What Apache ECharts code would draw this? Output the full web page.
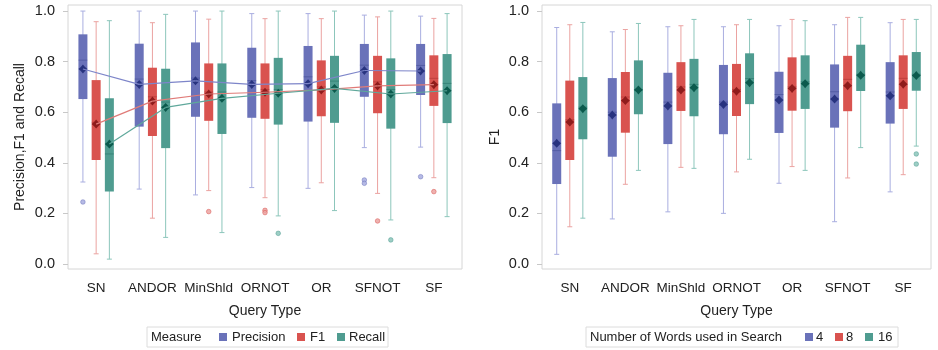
<!DOCTYPE html>
<html>
<head>
<meta charset="utf-8">
<script src="https://cdn.jsdelivr.net/npm/echarts@6/dist/echarts.min.js"></script>
<style>
html,body{margin:0;padding:0;background:#fff}
#chart{width:938px;height:350px}
</style>
</head>
<body>
<div id="chart"></div>
<script>
var categories = ['SN', 'ANDOR', 'MinShld', 'ORNOT', 'OR', 'SFNOT', 'SF'];
var yTicks = [0, 0.2, 0.4, 0.6, 0.8, 1.0];

// left panel - each row: lower whisker, q1, median, q3, upper whisker
var precisionBox = [[0.324,0.652,0.806,0.908,1.0],[0.296,0.543,0.731,0.871,1.0],[0.273,0.582,0.735,0.876,1.0],[0.302,0.578,0.725,0.855,0.99],[0.299,0.563,0.74,0.862,0.99],[0.46,0.661,0.786,0.87,0.984],[0.462,0.668,0.785,0.87,0.98]];
var precisionMean = [0.771,0.710,0.724,0.710,0.713,0.765,0.763];
var precisionOut = [[0,0.245],[5,0.332],[5,0.319],[6,0.345]];

var f1Box = [[0.04,0.411,0.56,0.727,0.958],[0.181,0.506,0.661,0.776,0.954],[0.29,0.566,0.68,0.793,0.968],[0.262,0.574,0.69,0.793,0.97],[0.321,0.584,0.70,0.805,0.97],[0.279,0.596,0.72,0.823,0.977],[0.341,0.625,0.734,0.825,0.971]];
var f1Mean = [0.553,0.644,0.672,0.679,0.688,0.704,0.709];
var f1Out = [[2,0.207],[3,0.212],[3,0.203],[5,0.17],[6,0.286]];

var recallBox = [[0.019,0.286,0.435,0.655,0.962],[0.105,0.458,0.64,0.772,0.987],[0.124,0.514,0.68,0.793,1.0],[0.19,0.551,0.69,0.815,1.0],[0.211,0.558,0.723,0.823,1.0],[0.174,0.535,0.69,0.813,1.0],[0.187,0.557,0.714,0.83,0.99]];
var recallMean = [0.474,0.619,0.655,0.675,0.694,0.672,0.685];
var recallOut = [[3,0.121],[5,0.095]];

// right panel - F1 by number of words
var w4Box = [[0.038,0.316,0.448,0.635,0.935],[0.178,0.424,0.60,0.735,0.918],[0.206,0.474,0.64,0.756,0.938],[0.2,0.513,0.64,0.787,0.938],[0.319,0.518,0.67,0.76,0.942],[0.167,0.539,0.681,0.789,0.946],[0.285,0.555,0.68,0.798,0.954]];
var w4Mean = [0.477,0.589,0.625,0.631,0.648,0.652,0.665];
var w8Box = [[0.147,0.411,0.57,0.725,0.946],[0.315,0.519,0.66,0.759,0.927],[0.382,0.605,0.70,0.798,0.942],[0.364,0.585,0.69,0.791,0.946],[0.385,0.606,0.70,0.817,0.967],[0.34,0.604,0.73,0.823,0.975],[0.353,0.613,0.734,0.825,0.967]];
var w8Mean = [0.561,0.646,0.688,0.683,0.694,0.705,0.711];
var w16Box = [[0.181,0.493,0.62,0.739,0.955],[0.37,0.592,0.69,0.805,0.951],[0.378,0.584,0.71,0.811,0.967],[0.414,0.632,0.733,0.833,0.967],[0.37,0.613,0.72,0.825,0.962],[0.46,0.684,0.75,0.867,0.975],[0.466,0.685,0.75,0.838,0.967]];
var w16Mean = [0.614,0.688,0.697,0.717,0.713,0.746,0.745];
var w16Out = [[6,0.435],[6,0.395]];

var FONT = '"Liberation Sans", Arial, sans-serif';
var BLUE = {fill: '#6a72b9', light: '#a9aee0', dark: '#28337f', line: '#7d85c9'};
var RED = {fill: '#d9534f', light: '#eba3a1', dark: '#8f1c1c', line: '#e07b78'};
var TEAL = {fill: '#4f9c90', light: '#8cc6bb', dark: '#0b5a4d', line: '#5fa89b'};
var OFF = 0.235;

// mean marker: small four-pointed star / diamond
function star(x, y) {
  var r = 4.5, s = 2.1;
  return [[x, y - r], [x + s, y - s], [x + r, y], [x + s, y + s], [x, y + r], [x - s, y + s], [x - r, y], [x - s, y - s]];
}

function boxSeries(grid, name, boxes, means, off, col) {
  var data = boxes.map(function (b, i) { return [i].concat(b).concat([means[i]]); });
  return {
    type: 'custom', name: name, xAxisIndex: grid, yAxisIndex: grid, z: 2,
    itemStyle: {color: col.fill},
    encode: {x: 0, y: 1},
    data: data,
    renderItem: function (params, api) {
      var c = api.value(0);
      var bw = api.size([1, 0])[0];
      var x = api.coord([c, 0])[0] + off * bw;
      var y = function (v) { return api.coord([c, v])[1]; };
      var lo = y(api.value(1)), q1 = y(api.value(2)), md = y(api.value(3));
      var q3 = y(api.value(4)), hi = y(api.value(5)), mn = y(api.value(6));
      var h = 4.5;
      return {type: 'group', children: [
        {type: 'line', shape: {x1: x, y1: hi, x2: x, y2: lo}, style: {stroke: col.light, lineWidth: 1}},
        {type: 'line', shape: {x1: x - 2.5, y1: hi, x2: x + 2.5, y2: hi}, style: {stroke: col.light, lineWidth: 1}},
        {type: 'line', shape: {x1: x - 2.5, y1: lo, x2: x + 2.5, y2: lo}, style: {stroke: col.light, lineWidth: 1}},
        {type: 'rect', shape: {x: x - h, y: q3, width: 2 * h, height: q1 - q3}, style: {fill: col.fill}},
        {type: 'line', shape: {x1: x - h, y1: md, x2: x + h, y2: md}, style: {stroke: col.dark, lineWidth: 1, opacity: 0.35}},
        {type: 'polygon', shape: {points: star(x, mn)}, style: {fill: col.dark}}
      ]};
    }
  };
}

function meanLine(grid, means, off, col) {
  return {
    type: 'custom', xAxisIndex: grid, yAxisIndex: grid, z: 3, silent: true,
    encode: {x: 0, y: 1},
    data: means.map(function (m, i) { return [i, m]; }),
    renderItem: function (params, api) {
      var c = api.value(0);
      if (c === 0) return null;
      var bw = api.size([1, 0])[0];
      var p0 = api.coord([c - 1, means[c - 1]]);
      var p1 = api.coord([c, api.value(1)]);
      return {type: 'line', shape: {x1: p0[0] + off * bw, y1: p0[1], x2: p1[0] + off * bw, y2: p1[1]},
        style: {stroke: col.line, lineWidth: 1.2}};
    }
  };
}

function outSeries(grid, pts, off, col) {
  return {
    type: 'custom', xAxisIndex: grid, yAxisIndex: grid, z: 2, silent: true,
    encode: {x: 0, y: 1},
    data: pts,
    renderItem: function (params, api) {
      var bw = api.size([1, 0])[0];
      var p = api.coord([api.value(0), api.value(1)]);
      return {type: 'circle', shape: {cx: p[0] + off * bw, cy: p[1], r: 2.3},
        style: {fill: col.light, stroke: col.fill, lineWidth: 0.6, opacity: 0.85}};
    }
  };
}

function xAx(grid) {
  return {
    type: 'category', gridIndex: grid, data: categories,
    axisLine: {show: false},
    axisTick: {alignWithLabel: true, length: 5, lineStyle: {color: '#c8c8c8'}},
    axisLabel: {interval: 0, color: '#222', fontSize: 13.5, fontFamily: FONT, margin: 12},
    name: 'Query Type', nameLocation: 'middle', nameGap: 35,
    nameTextStyle: {color: '#222', fontSize: 14, fontFamily: FONT}
  };
}

function yAx(grid, title, gap) {
  return {
    type: 'value', gridIndex: grid, min: -0.02, max: 1.024,
    axisLine: {show: false},
    splitLine: {show: false},
    axisTick: {show: true, length: 5, customValues: yTicks, lineStyle: {color: '#c8c8c8'}},
    axisLabel: {color: '#222', fontSize: 14.5, fontFamily: FONT, margin: 13, customValues: yTicks,
      formatter: function (v) { return v.toFixed(1); }},
    name: title, nameLocation: 'middle', nameGap: gap,
    nameTextStyle: {color: '#222', fontSize: 14, fontFamily: FONT}
  };
}

function legendBox(x, y, w, title, items) {
  var kids = [
    {type: 'rect', shape: {x: x, y: y, width: w, height: 20}, style: {fill: '#fff', stroke: '#dcdcdc', lineWidth: 1}},
    {type: 'text', x: title.x, y: y + 10, style: {text: title.t, fill: '#222', font: '13px ' + FONT, verticalAlign: 'middle'}}
  ];
  items.forEach(function (it) {
    kids.push({type: 'rect', shape: {x: it.sx, y: y + 6, width: 8, height: 8}, style: {fill: it.c}});
    kids.push({type: 'text', x: it.tx, y: y + 10, style: {text: it.t, fill: '#222', font: '13px ' + FONT, verticalAlign: 'middle'}});
  });
  return {type: 'group', children: kids};
}

var chart = echarts.init(document.getElementById('chart'), null, {renderer: 'canvas'});
chart.setOption({
  animation: false,
  backgroundColor: '#fff',
  grid: [
    {left: 68, top: 5, width: 394, height: 264, show: true, borderColor: '#d6d6d6', borderWidth: 1},
    {left: 542, top: 5, width: 389, height: 264, show: true, borderColor: '#d6d6d6', borderWidth: 1}
  ],
  xAxis: [xAx(0), xAx(1)],
  yAxis: [yAx(0, 'Precision,F1 and Recall', 41), yAx(1, 'F1', 40)],
  graphic: [
    legendBox(147, 327, 241, {x: 151, t: 'Measure'}, [
      {sx: 219, tx: 232, t: 'Precision', c: BLUE.fill},
      {sx: 297, tx: 310, t: 'F1', c: RED.fill},
      {sx: 337, tx: 349, t: 'Recall', c: TEAL.fill}
    ]),
    legendBox(586, 327, 312, {x: 590, t: 'Number of Words used in Search'}, [
      {sx: 805, tx: 816, t: '4', c: BLUE.fill},
      {sx: 835, tx: 846, t: '8', c: RED.fill},
      {sx: 865, tx: 878, t: '16', c: TEAL.fill}
    ])
  ],
  series: [
    boxSeries(0, 'Precision', precisionBox, precisionMean, -OFF, BLUE),
    boxSeries(0, 'F1', f1Box, f1Mean, 0, RED),
    boxSeries(0, 'Recall', recallBox, recallMean, OFF, TEAL),
    outSeries(0, precisionOut, -OFF, BLUE),
    outSeries(0, f1Out, 0, RED),
    outSeries(0, recallOut, OFF, TEAL),
    meanLine(0, precisionMean, -OFF, BLUE),
    meanLine(0, f1Mean, 0, RED),
    meanLine(0, recallMean, OFF, TEAL),
    boxSeries(1, '4', w4Box, w4Mean, -OFF, BLUE),
    boxSeries(1, '8', w8Box, w8Mean, 0, RED),
    boxSeries(1, '16', w16Box, w16Mean, OFF, TEAL),
    outSeries(1, w16Out, OFF, TEAL)
  ]
});
</script>
</body>
</html>
